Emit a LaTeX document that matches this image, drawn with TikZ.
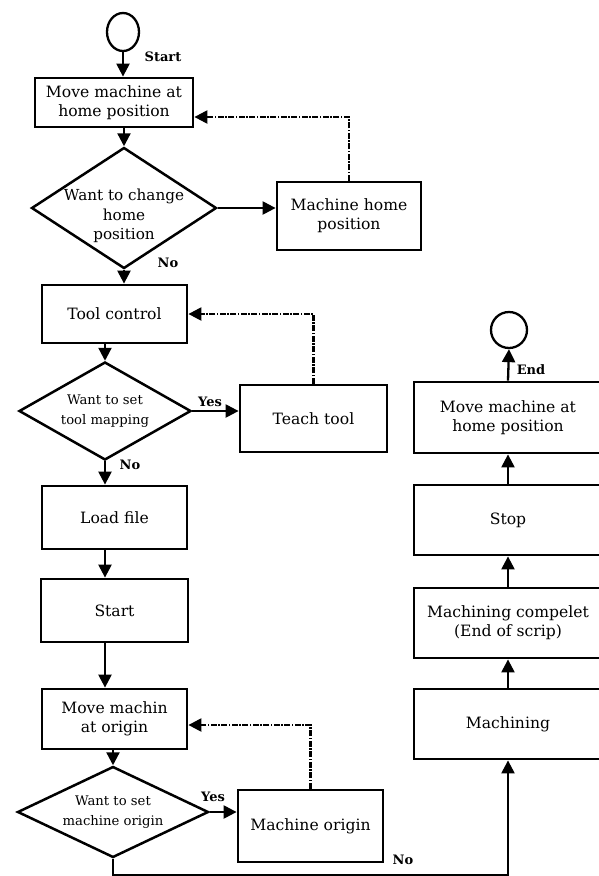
\documentclass[tikz,border=0pt]{standalone}
\usepackage{fontspec}
\setmainfont{DejaVu Serif}
\usetikzlibrary{arrows.meta, shapes.geometric, positioning}

\begin{document}
\begin{tikzpicture}[x=1pt, y=-1pt,
    box/.style={draw, line width=2.8pt, align=center, inner sep=0pt, font=\fontsize{15.6}{19}\selectfont},
    decision/.style={draw, diamond, line width=2.5pt, inner sep=0pt},
    dtext/.style={align=center, font=\fontsize{15.2}{19.5}\selectfont},
    stext/.style={align=center, font=\fontsize{13.2}{20}\selectfont},
    tag/.style={font=\bfseries\fontsize{13}{15}\selectfont},
    arr/.style={line width=2.3pt, -{Triangle[width=13pt,length=13pt]}},
    back/.style={line width=2.3pt, dash pattern=on 6pt off 1.5pt on 1.5pt off 1.5pt, -{Triangle[width=13pt,length=13pt]}}]
    \useasboundingbox (0,0) rectangle (599,876);
    \node[draw, ellipse, line width=2.3pt, minimum width=32pt, minimum height=38pt] (start) at (123, 32) {};
    \node[box, minimum width=158pt, minimum height=49pt] (home1) at (114, 102.5) {Move machine at\\home position};
    \node[decision, minimum width=185pt, minimum height=121pt, label={[dtext, yshift=-8pt]center:{Want to change\\home\\position}}] (d1) at (124, 208) {};
    \node[box, minimum width=144pt, minimum height=68pt] (mhome) at (349, 216) {Machine home\\position};
    \node[box, minimum width=145pt, minimum height=58pt] (tool) at (114.5, 314) {Tool control};
    \node[decision, minimum width=172pt, minimum height=98pt, label={[stext]center:{Want to set\\tool mapping}}] (d2) at (105, 411) {};
    \node[box, minimum width=147pt, minimum height=67pt] (teach) at (313.5, 418.5) {Teach tool};
    \node[box, minimum width=145pt, minimum height=63pt] (load) at (114.5, 517.5) {Load file};
    \node[box, minimum width=147pt, minimum height=63pt] (startb) at (114.5, 610.5) {Start};
    \node[box, minimum width=145pt, minimum height=60pt] (origin1) at (114.5, 719) {Move machin\\at origin};
    \node[decision, minimum width=191pt, minimum height=91pt, label={[stext]center:{Want to set\\machine origin}}] (d3) at (113, 812) {};
    \node[box, minimum width=145pt, minimum height=72pt] (morig) at (310.5, 826) {Machine origin};
    \node[box, minimum width=188pt, minimum height=70pt] (mach) at (508, 724) {Machining};
    \node[box, minimum width=188pt, minimum height=70pt] (compl) at (508, 623) {Machining compelet\\(End of scrip)};
    \node[box, minimum width=188pt, minimum height=70pt] (stop) at (508, 520) {Stop};
    \node[box, minimum width=188pt, minimum height=71pt] (home2) at (508, 417.5) {Move machine at\\home position};
    \node[draw, circle, line width=2.3pt, minimum size=36pt] (endc) at (509, 330) {};
    \node[tag] (lstart) at (163, 57) {Start};
    \node[tag] (lno1) at (168, 263) {No};
    \node[tag] (lyes1) at (210, 402) {Yes};
    \node[tag] (lno2) at (130, 465) {No};
    \node[tag] (lyes2) at (213, 797) {Yes};
    \node[tag] (lno3) at (403, 860) {No};
    \node[tag] (lend) at (531, 370) {End};
    \draw
    (start.south) edge[arr] (start.south |- home1.north)
    (home1.south -| d1.north) edge[arr] (d1.north)
    (d1.east) edge[arr] (d1.east -| mhome.west)
    (d1.south) edge[arr] (d1.south |- tool.north)
    (tool.south -| d2.north) edge[arr] (d2.north)
    (d2.east) edge[arr] (d2.east -| teach.west)
    (d2.south) edge[arr] (d2.south |- load.north)
    (load.south -| d2.south) edge[arr] (startb.north -| d2.south)
    (startb.south -| d2.south) edge[arr] (origin1.north -| d2.south)
    (origin1.south -| d3.north) edge[arr] (d3.north)
    (d3.east) edge[arr] (d3.east -| morig.west)
    (mach.north) edge[arr] (compl.south)
    (compl.north) edge[arr] (stop.south)
    (stop.north) edge[arr] (home2.south)
    (home2.north) edge[arr] (endc.south);
    \draw[back] (mhome.north) |- ([yshift=-14.5pt]home1.east);
    \draw[back] (teach.north) |- (tool.east);
    \draw[back] (morig.north) |- ([yshift=-6pt]origin1.east);
    \draw[arr] (d3.south) -- ++(0,16) -| (mach.south);
\end{tikzpicture}
\end{document}
